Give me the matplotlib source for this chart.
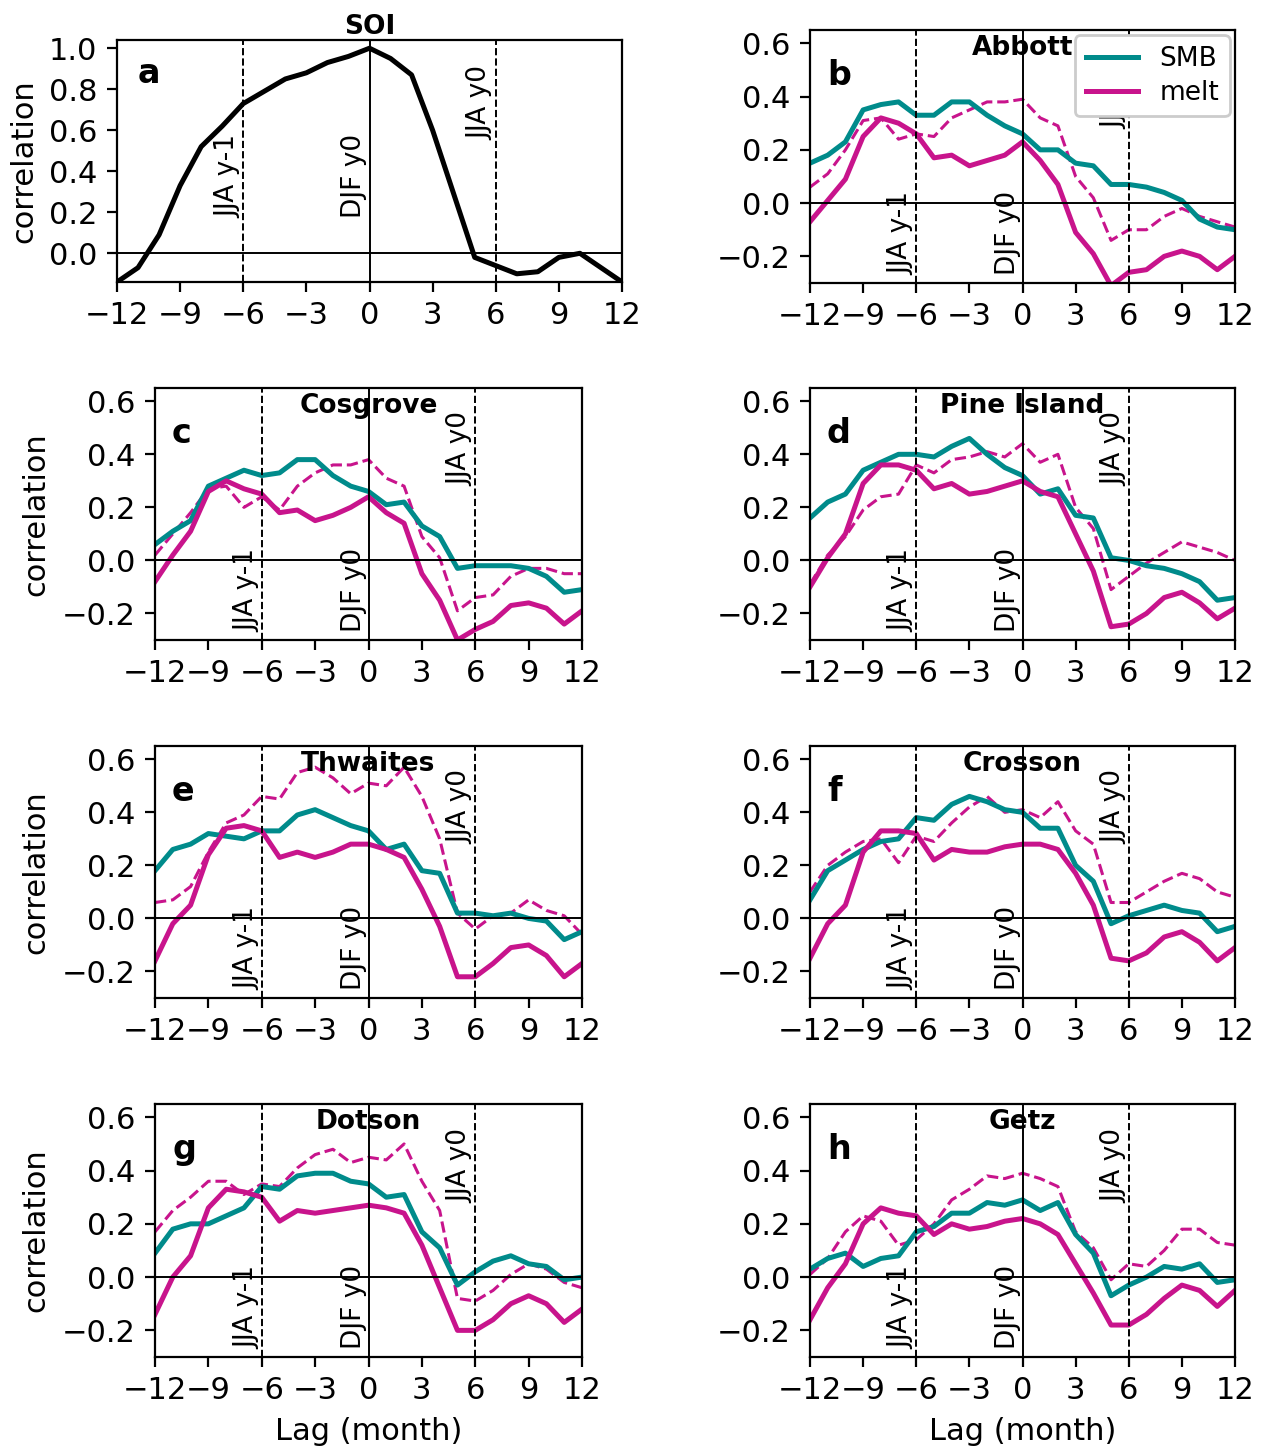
import numpy as np
import matplotlib
matplotlib.use("Agg")
import matplotlib.pyplot as plt

lags = np.arange(-12, 13)

soi = [-0.14, -0.07, 0.09, 0.33, 0.52, 0.62, 0.73, 0.79, 0.85, 0.88, 0.93, 0.96, 1.0,
       0.95, 0.87, 0.6, 0.29, -0.02, -0.06, -0.1, -0.09, -0.02, 0.0, -0.07, -0.14]

names = ["Abbott", "Cosgrove", "Pine Island", "Thwaites", "Crosson", "Dotson", "Getz"]
letters = ["b", "c", "d", "e", "f", "g", "h"]

smb = {
    "Abbott": [0.15, 0.18, 0.23, 0.35, 0.37, 0.38, 0.33, 0.33, 0.38, 0.38, 0.33, 0.29, 0.26, 0.2, 0.2, 0.15, 0.14, 0.07, 0.07, 0.06, 0.04, 0.01, -0.06, -0.09, -0.1],
    "Cosgrove": [0.06, 0.11, 0.15, 0.28, 0.31, 0.34, 0.32, 0.33, 0.38, 0.38, 0.32, 0.28, 0.26, 0.21, 0.22, 0.13, 0.09, -0.03, -0.02, -0.02, -0.02, -0.03, -0.06, -0.12, -0.11],
    "Pine Island": [0.16, 0.22, 0.25, 0.34, 0.37, 0.4, 0.4, 0.39, 0.43, 0.46, 0.4, 0.35, 0.32, 0.25, 0.27, 0.17, 0.16, 0.01, 0.0, -0.02, -0.03, -0.05, -0.08, -0.15, -0.14],
    "Thwaites": [0.18, 0.26, 0.28, 0.32, 0.31, 0.3, 0.33, 0.33, 0.39, 0.41, 0.38, 0.35, 0.33, 0.26, 0.28, 0.18, 0.17, 0.02, 0.02, 0.01, 0.02, 0.0, -0.01, -0.08, -0.05],
    "Crosson": [0.07, 0.18, 0.22, 0.26, 0.29, 0.3, 0.38, 0.37, 0.43, 0.46, 0.44, 0.41, 0.4, 0.34, 0.34, 0.2, 0.14, -0.02, 0.01, 0.03, 0.05, 0.03, 0.02, -0.05, -0.03],
    "Dotson": [0.09, 0.18, 0.2, 0.2, 0.23, 0.26, 0.34, 0.33, 0.38, 0.39, 0.39, 0.36, 0.35, 0.3, 0.31, 0.17, 0.11, -0.03, 0.02, 0.06, 0.08, 0.05, 0.04, -0.01, 0.0],
    "Getz": [0.03, 0.07, 0.09, 0.04, 0.07, 0.08, 0.17, 0.19, 0.24, 0.24, 0.28, 0.27, 0.29, 0.25, 0.28, 0.16, 0.09, -0.07, -0.03, 0.0, 0.04, 0.03, 0.05, -0.02, -0.01],
}
melt = {
    "Abbott": [-0.07, 0.01, 0.09, 0.25, 0.32, 0.3, 0.26, 0.17, 0.18, 0.14, 0.16, 0.18, 0.23, 0.16, 0.07, -0.11, -0.19, -0.31, -0.26, -0.25, -0.2, -0.18, -0.2, -0.25, -0.2],
    "Cosgrove": [-0.08, 0.02, 0.11, 0.26, 0.3, 0.27, 0.25, 0.18, 0.19, 0.15, 0.17, 0.2, 0.24, 0.18, 0.14, -0.05, -0.15, -0.3, -0.26, -0.23, -0.17, -0.16, -0.18, -0.24, -0.19],
    "Pine Island": [-0.1, 0.01, 0.1, 0.29, 0.36, 0.36, 0.34, 0.27, 0.29, 0.25, 0.26, 0.28, 0.3, 0.26, 0.24, 0.1, -0.04, -0.25, -0.24, -0.2, -0.14, -0.12, -0.16, -0.22, -0.18],
    "Thwaites": [-0.16, -0.02, 0.05, 0.24, 0.34, 0.35, 0.33, 0.23, 0.25, 0.23, 0.25, 0.28, 0.28, 0.26, 0.23, 0.11, -0.03, -0.22, -0.22, -0.17, -0.11, -0.1, -0.14, -0.22, -0.17],
    "Crosson": [-0.15, -0.02, 0.05, 0.25, 0.33, 0.33, 0.32, 0.22, 0.26, 0.25, 0.25, 0.27, 0.28, 0.28, 0.26, 0.17, 0.05, -0.15, -0.16, -0.13, -0.07, -0.05, -0.09, -0.16, -0.11],
    "Dotson": [-0.14, 0.0, 0.08, 0.26, 0.33, 0.32, 0.3, 0.21, 0.25, 0.24, 0.25, 0.26, 0.27, 0.26, 0.24, 0.12, -0.04, -0.2, -0.2, -0.16, -0.1, -0.07, -0.1, -0.17, -0.12],
    "Getz": [-0.16, -0.04, 0.05, 0.2, 0.26, 0.24, 0.23, 0.16, 0.2, 0.18, 0.19, 0.21, 0.22, 0.2, 0.16, 0.05, -0.06, -0.18, -0.18, -0.14, -0.08, -0.03, -0.05, -0.11, -0.05],
}
melt_dashed = {
    "Abbott": [0.06, 0.11, 0.2, 0.31, 0.32, 0.24, 0.26, 0.25, 0.32, 0.35, 0.38, 0.38, 0.39, 0.32, 0.29, 0.1, 0.02, -0.14, -0.1, -0.1, -0.05, -0.02, -0.05, -0.07, -0.09],
    "Cosgrove": [0.02, 0.1, 0.18, 0.27, 0.28, 0.2, 0.24, 0.19, 0.28, 0.33, 0.36, 0.36, 0.38, 0.31, 0.28, 0.09, 0.01, -0.19, -0.14, -0.13, -0.06, -0.03, -0.03, -0.05, -0.05],
    "Pine Island": [-0.09, 0.02, 0.09, 0.19, 0.24, 0.25, 0.36, 0.33, 0.38, 0.39, 0.41, 0.39, 0.44, 0.37, 0.4, 0.2, 0.12, -0.11, -0.06, -0.01, 0.03, 0.07, 0.05, 0.03, 0.0],
    "Thwaites": [0.06, 0.07, 0.12, 0.25, 0.36, 0.39, 0.46, 0.45, 0.55, 0.57, 0.53, 0.47, 0.51, 0.5, 0.57, 0.46, 0.3, 0.02, -0.04, 0.01, 0.02, 0.07, 0.03, 0.01, -0.06],
    "Crosson": [0.1, 0.2, 0.25, 0.29, 0.3, 0.21, 0.31, 0.29, 0.36, 0.42, 0.46, 0.4, 0.41, 0.38, 0.44, 0.33, 0.28, 0.06, 0.06, 0.1, 0.14, 0.17, 0.15, 0.1, 0.08],
    "Dotson": [0.17, 0.25, 0.3, 0.36, 0.36, 0.31, 0.35, 0.34, 0.41, 0.46, 0.48, 0.43, 0.45, 0.44, 0.5, 0.36, 0.25, -0.08, -0.09, -0.05, 0.01, 0.05, 0.03, -0.02, -0.04],
    "Getz": [0.01, 0.07, 0.17, 0.23, 0.21, 0.12, 0.14, 0.2, 0.29, 0.33, 0.38, 0.37, 0.39, 0.37, 0.34, 0.17, 0.11, -0.01, 0.05, 0.04, 0.1, 0.18, 0.18, 0.13, 0.12],
}

TEAL = "#008b8b"
MAG = "#c8148c"
W, H = 1262, 1456

plt.rcParams["font.size"] = 11

fig = plt.figure(figsize=(W / 200, H / 200), dpi=200)


def px_axes(l, r, t, b):
    return fig.add_axes([l / W, 1 - b / H, (r - l) / W, (b - t) / H])


def common(ax, lo, hi, ypos_y1, ypos_y0):
    ax.set_xlim(-12, 12)
    ax.set_ylim(lo, hi)
    ax.set_xticks([-12, -9, -6, -3, 0, 3, 6, 9, 12])
    ax.axhline(0, color="k", lw=0.7)
    ax.axvline(0, color="k", lw=0.7)
    ax.axvline(-6, color="k", lw=0.7, ls="--")
    ax.axvline(6, color="k", lw=0.7, ls="--")
    ax.text(-6.1, ypos_y1, "JJA y-1", rotation=90, ha="right", va="bottom", fontsize=9.5)
    ax.text(-0.1, ypos_y1, "DJF y0", rotation=90, ha="right", va="bottom", fontsize=9.5)
    ax.text(5.9, ypos_y0, "JJA y0", rotation=90, ha="right", va="bottom", fontsize=9.5)


# panel a
ax = px_axes(117, 622, 40, 282)
ax.plot(lags, soi, color="k", lw=1.8)
common(ax, -0.14, 1.04, 0.17, 0.55)
ax.set_yticks([0, 0.2, 0.4, 0.6, 0.8, 1.0])
ax.set_ylabel("correlation")
ax.set_title("SOI", fontsize=9.5, fontweight="bold", pad=0)
ax.text(0.04, 0.93, "a", transform=ax.transAxes, fontsize=12, fontweight="bold", va="top")

lefts = [(810, 1235), (155, 582), (810, 1235), (155, 582), (810, 1235), (155, 582), (810, 1235)]
rows = [(30, 283), (388, 640), (388, 640), (746, 998), (746, 998), (1104, 1357), (1104, 1357)]

for i, name in enumerate(names):
    l, r = lefts[i]
    t, b = rows[i]
    ax = px_axes(l, r, t, b)
    ax.plot(lags, melt_dashed[name], color=MAG, lw=1.1, ls="--")
    ax.plot(lags, smb[name], color=TEAL, lw=1.8, label="SMB")
    ax.plot(lags, melt[name], color=MAG, lw=1.8, label="melt")
    common(ax, -0.3, 0.65, -0.27, 0.28)
    ax.set_yticks([-0.2, 0.0, 0.2, 0.4, 0.6])
    ax.text(0.5, 0.98, name, transform=ax.transAxes, ha="center", va="top",
            fontsize=9.5, fontweight="bold")
    ax.text(0.04, 0.82, letters[i], transform=ax.transAxes, fontsize=12,
            fontweight="bold", va="center")
    if l == 155:
        ax.set_ylabel("correlation")
    if i >= 5:
        ax.set_xlabel("Lag (month)")
    if name == "Abbott":
        leg = ax.legend(loc="upper right", fontsize=9.5, framealpha=1,
                        handlelength=2, borderaxespad=0.2, labelspacing=0.3)
        leg.set_zorder(10)

fig.savefig("out.png", dpi=200)
